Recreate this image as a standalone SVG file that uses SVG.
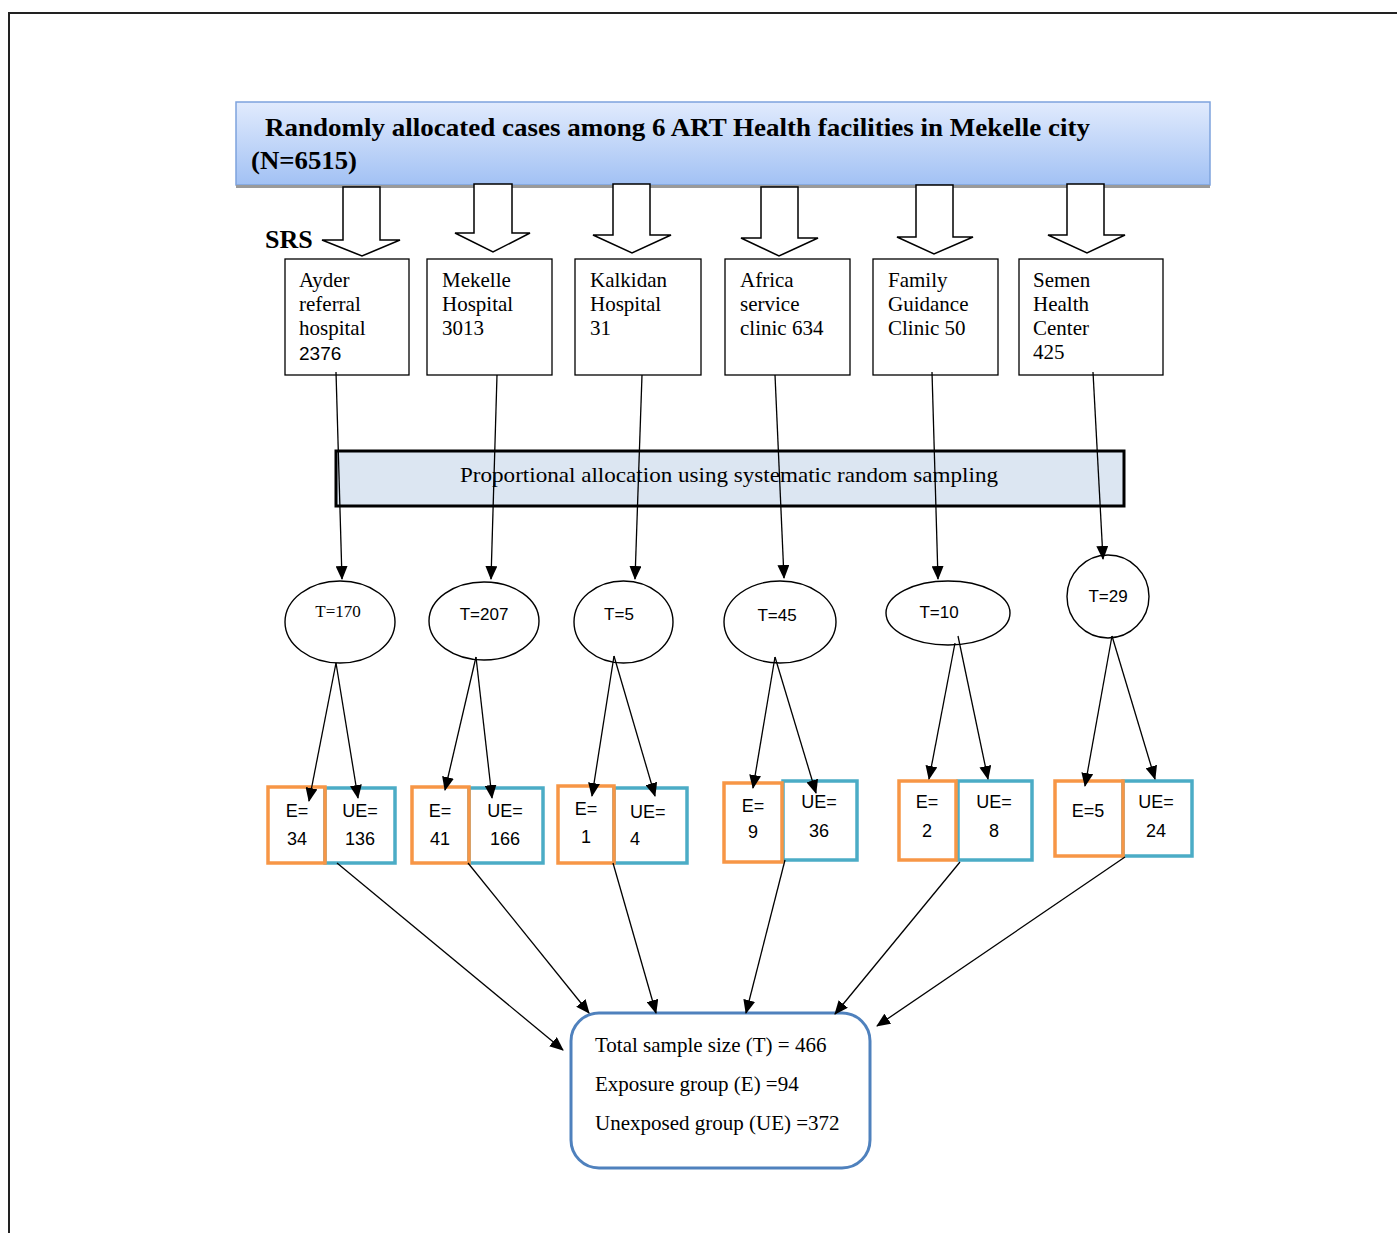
<svg xmlns="http://www.w3.org/2000/svg" width="1397" height="1233" viewBox="0 0 1397 1233">
<defs>
<linearGradient id="hdr" x1="0" y1="0" x2="0" y2="1">
<stop offset="0" stop-color="#e1ebfd"/>
<stop offset="1" stop-color="#a2c1f4"/>
</linearGradient>
<marker id="ah" markerUnits="userSpaceOnUse" markerWidth="14" markerHeight="12" refX="13" refY="6" orient="auto">
<path d="M0,0 L14,6 L0,12 Z" fill="#000"/>
</marker>
<style>
.serif{font-family:"Liberation Serif","Times New Roman",serif;fill:#000}
.sans{font-family:"Liberation Sans",Arial,sans-serif;fill:#000}
.fac{fill:#fff;stroke:#000;stroke-width:1.3}
.blk{fill:#fff;stroke:#000;stroke-width:1.5}
.ell{fill:#fff;stroke:#000;stroke-width:1.4}
.eb{fill:none;stroke:#f79646;stroke-width:3.5}
.ub{fill:none;stroke:#4bacc6;stroke-width:3.5}
.con{stroke:#000;stroke-width:1.3;fill:none;marker-end:url(#ah)}
.ft{font-size:21px}
.et{font-size:18px;text-anchor:middle}
</style>
</defs>
<rect width="1397" height="1233" fill="#fff"/>
<path d="M9,1233 L9,13 L1397,13" fill="none" stroke="#222" stroke-width="2"/>

<g id="header">
<rect x="236" y="102" width="974" height="83" fill="url(#hdr)" stroke="#7ea3dd" stroke-width="1.5"/>
<line x1="236" y1="186.5" x2="1210" y2="186.5" stroke="#9a9a9a" stroke-width="3"/>
<text class="serif" x="265" y="136" font-size="26" font-weight="bold" textLength="825" lengthAdjust="spacingAndGlyphs">Randomly allocated cases among 6 ART Health facilities in Mekelle city</text>
<text class="serif" x="251" y="169" font-size="26" font-weight="bold" textLength="106" lengthAdjust="spacingAndGlyphs">(N=6515)</text>
</g>

<g id="block-arrows">
<path class="blk" d="M343,187 L380,187 L380,240 L400,240 L362,256 L322,240 L343,240 Z"/>
<path class="blk" d="M474,184 L512,184 L512,233 L530,233 L493,252 L455,233 L474,233 Z"/>
<path class="blk" d="M613,184 L650,184 L650,235 L671,235 L632,253 L593,235 L613,235 Z"/>
<path class="blk" d="M761,187 L798,187 L798,238 L818,238 L779,256 L741,238 L761,238 Z"/>
<path class="blk" d="M916,185 L953,185 L953,237 L973,237 L934,254 L897,237 L916,237 Z"/>
<path class="blk" d="M1067,184 L1104,184 L1104,235 L1125,235 L1087,253 L1048,235 L1067,235 Z"/>
</g>

<g id="srs-label">
<text class="serif" x="265" y="248" font-size="26" font-weight="bold">SRS</text>
</g>

<g id="fac1">
<rect class="fac" x="285" y="259" width="124" height="116"/>
<text class="serif ft" x="299" y="287">Ayder</text>
<text class="serif ft" x="299" y="311">referral</text>
<text class="serif ft" x="299" y="335">hospital</text>
<text class="sans" x="299" y="360" font-size="19">2376</text>
</g>
<g id="fac2">
<rect class="fac" x="427" y="259" width="125" height="116"/>
<text class="serif ft" x="442" y="287">Mekelle</text>
<text class="serif ft" x="442" y="311">Hospital</text>
<text class="serif ft" x="442" y="335">3013</text>
</g>
<g id="fac3">
<rect class="fac" x="575" y="259" width="126" height="116"/>
<text class="serif ft" x="590" y="287">Kalkidan</text>
<text class="serif ft" x="590" y="311">Hospital</text>
<text class="serif ft" x="590" y="335">31</text>
</g>
<g id="fac4">
<rect class="fac" x="725" y="259" width="125" height="116"/>
<text class="serif ft" x="740" y="287">Africa</text>
<text class="serif ft" x="740" y="311">service</text>
<text class="serif ft" x="740" y="335">clinic 634</text>
</g>
<g id="fac5">
<rect class="fac" x="873" y="259" width="125" height="116"/>
<text class="serif ft" x="888" y="287">Family</text>
<text class="serif ft" x="888" y="311">Guidance</text>
<text class="serif ft" x="888" y="335">Clinic 50</text>
</g>
<g id="fac6">
<rect class="fac" x="1019" y="259" width="144" height="116"/>
<text class="serif ft" x="1033" y="287">Semen</text>
<text class="serif ft" x="1033" y="311">Health</text>
<text class="serif ft" x="1033" y="335">Center</text>
<text class="serif ft" x="1033" y="359">425</text>
</g>

<g id="allocation">
<rect x="336" y="451" width="788" height="55" fill="#dce6f2" stroke="#000" stroke-width="3"/>
<text class="serif" x="729" y="482" font-size="21" text-anchor="middle" textLength="538" lengthAdjust="spacingAndGlyphs">Proportional allocation using systematic random sampling</text>
</g>

<g id="t1">
<ellipse class="ell" cx="340" cy="622" rx="55" ry="41"/>
<text class="serif" x="338" y="617" font-size="17" text-anchor="middle">T=170</text>
</g>
<g id="t2">
<ellipse class="ell" cx="484" cy="621" rx="55" ry="39"/>
<text class="sans" x="484" y="620" font-size="17" text-anchor="middle">T=207</text>
</g>
<g id="t3">
<ellipse class="ell" cx="623.5" cy="622" rx="49.5" ry="41"/>
<text class="sans" x="619" y="620" font-size="17" text-anchor="middle">T=5</text>
</g>
<g id="t4">
<ellipse class="ell" cx="780" cy="622" rx="56" ry="41"/>
<text class="sans" x="777" y="621" font-size="17" text-anchor="middle">T=45</text>
</g>
<g id="t5">
<ellipse class="ell" cx="948" cy="613" rx="62" ry="32"/>
<text class="sans" x="939" y="618" font-size="17" text-anchor="middle">T=10</text>
</g>
<g id="t6">
<ellipse class="ell" cx="1108" cy="596.5" rx="41" ry="41.5"/>
<text class="sans" x="1108" y="602" font-size="17" text-anchor="middle">T=29</text>
</g>

<g id="g1">
<rect class="ub" x="325" y="788" width="70" height="75"/>
<rect class="eb" x="268" y="787" width="57" height="76"/>
<text class="sans et" x="297" y="817">E=</text>
<text class="sans et" x="297" y="845">34</text>
<text class="sans et" x="360" y="817">UE=</text>
<text class="sans et" x="360" y="845">136</text>
</g>
<g id="g2">
<rect class="ub" x="469" y="788" width="74" height="75"/>
<rect class="eb" x="412" y="787" width="57" height="76"/>
<text class="sans et" x="440" y="817">E=</text>
<text class="sans et" x="440" y="845">41</text>
<text class="sans et" x="505" y="817">UE=</text>
<text class="sans et" x="505" y="845">166</text>
</g>
<g id="g3">
<rect class="ub" x="614" y="788" width="73" height="75"/>
<rect class="eb" x="558" y="786" width="56" height="77"/>
<text class="sans et" x="586" y="815">E=</text>
<text class="sans et" x="586" y="843">1</text>
<text class="sans" x="630" y="818" font-size="18">UE=</text>
<text class="sans" x="630" y="845" font-size="18">4</text>
</g>
<g id="g4">
<rect class="ub" x="783" y="781" width="74" height="79"/>
<rect class="eb" x="724" y="783" width="58" height="79"/>
<text class="sans et" x="753" y="812">E=</text>
<text class="sans et" x="753" y="838">9</text>
<text class="sans et" x="819" y="808">UE=</text>
<text class="sans et" x="819" y="837">36</text>
</g>
<g id="g5">
<rect class="ub" x="958" y="781" width="74" height="79"/>
<rect class="eb" x="899" y="781" width="57" height="79"/>
<text class="sans et" x="927" y="808">E=</text>
<text class="sans et" x="927" y="837">2</text>
<text class="sans et" x="994" y="808">UE=</text>
<text class="sans et" x="994" y="837">8</text>
</g>
<g id="g6">
<rect class="ub" x="1123" y="781" width="69" height="75"/>
<rect class="eb" x="1055" y="781" width="68" height="75"/>
<text class="sans et" x="1088" y="817">E=5</text>
<text class="sans et" x="1156" y="808">UE=</text>
<text class="sans et" x="1156" y="837">24</text>
</g>

<g id="total">
<rect x="571" y="1013" width="299" height="155" rx="28" ry="28" fill="#fff" stroke="#4f81bd" stroke-width="3"/>
<text class="serif" x="595" y="1052" font-size="21">Total sample size (T) = 466</text>
<text class="serif" x="595" y="1091" font-size="21">Exposure group (E) =94</text>
<text class="serif" x="595" y="1130" font-size="21">Unexposed group (UE) =372</text>
</g>

<g id="connectors">
<line class="con" x1="336" y1="372" x2="342" y2="579"/>
<line class="con" x1="497" y1="375" x2="491" y2="579"/>
<line class="con" x1="642" y1="375" x2="635" y2="579"/>
<line class="con" x1="775" y1="375" x2="784" y2="578"/>
<line class="con" x1="932" y1="372" x2="938" y2="579"/>
<line class="con" x1="1093" y1="372" x2="1103" y2="559"/>

<line class="con" x1="336" y1="663" x2="309" y2="801"/>
<line class="con" x1="336" y1="663" x2="358" y2="798"/>
<line class="con" x1="476" y1="657" x2="445" y2="790"/>
<line class="con" x1="476" y1="657" x2="492" y2="798"/>
<line class="con" x1="614" y1="656" x2="592" y2="796"/>
<line class="con" x1="614" y1="656" x2="655" y2="796"/>
<line class="con" x1="775" y1="657" x2="753" y2="788"/>
<line class="con" x1="775" y1="657" x2="816" y2="793"/>
<line class="con" x1="955" y1="643" x2="929" y2="779"/>
<line class="con" x1="958" y1="636" x2="988" y2="779"/>
<line class="con" x1="1112" y1="636" x2="1085" y2="786"/>
<line class="con" x1="1112" y1="636" x2="1155" y2="779"/>

<line class="con" x1="337" y1="863" x2="563" y2="1050"/>
<line class="con" x1="468" y1="863" x2="589" y2="1013"/>
<line class="con" x1="613" y1="863" x2="656" y2="1013"/>
<line class="con" x1="785" y1="860" x2="746" y2="1013"/>
<line class="con" x1="960" y1="862" x2="835" y2="1014"/>
<line class="con" x1="1125" y1="857" x2="877" y2="1026"/>
</g>
</svg>
